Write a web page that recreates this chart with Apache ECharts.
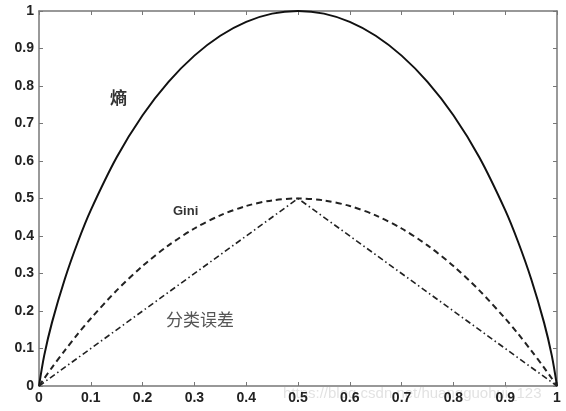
<!DOCTYPE html>
<html><head><meta charset="utf-8">
<script src="https://cdn.jsdelivr.net/npm/echarts@6/dist/echarts.min.js"></script>
<style>html,body{margin:0;padding:0;background:#fff}#c{width:566px;height:411px}</style>
</head><body><div id="c"></div>
<script>
var pValues = [0, 0.01, 0.025, 0.05, 0.075, 0.1, 0.15, 0.2, 0.25, 0.3, 0.35, 0.4, 0.45, 0.5, 0.55, 0.6, 0.65, 0.7, 0.75, 0.8, 0.85, 0.9, 0.925, 0.95, 0.975, 0.99, 1];
var entropyValues = [0, 0.081, 0.169, 0.286, 0.384, 0.469, 0.610, 0.722, 0.811, 0.881, 0.934, 0.971, 0.993, 1, 0.993, 0.971, 0.934, 0.881, 0.811, 0.722, 0.610, 0.469, 0.384, 0.286, 0.169, 0.081, 0];
var giniValues = [0, 0.020, 0.049, 0.095, 0.139, 0.180, 0.255, 0.320, 0.375, 0.420, 0.455, 0.480, 0.495, 0.5, 0.495, 0.480, 0.455, 0.420, 0.375, 0.320, 0.255, 0.180, 0.139, 0.095, 0.049, 0.020, 0];
var errorP = [0, 0.5, 1];
var errorValues = [0, 0.5, 0];
var xTicks = ['0','0.1','0.2','0.3','0.4','0.5','0.6','0.7','0.8','0.9','1'];
var yTicks = ['0','0.1','0.2','0.3','0.4','0.5','0.6','0.7','0.8','0.9','1'];

function zip(a, b) { return a.map(function (v, i) { return [v, b[i]]; }); }

var chart = echarts.init(document.getElementById('c'));
var axisCol = '#777';
var lbl = {color: '#222', fontFamily: 'Liberation Sans', fontSize: 14, fontWeight: 'bold'};
function mkAxis(pos, show, labels) {
  return {
    type: 'value', min: 0, max: 1, interval: 0.1, position: pos,
    axisLine: {show: true, onZero: false, lineStyle: {color: axisCol, width: 1.5}},
    axisTick: {show: true, inside: true, length: 4, lineStyle: {color: axisCol}},
    splitLine: {show: false},
    axisLabel: show ? Object.assign({margin: 5, formatter: function (v) { return labels[Math.round(v * 10)]; }}, lbl) : {show: false}
  };
}
chart.setOption({
  animation: false,
  grid: {left: 39, right: 9, top: 11, bottom: 25},
  xAxis: [mkAxis('bottom', true, xTicks), mkAxis('top', false)],
  yAxis: [mkAxis('left', true, yTicks), mkAxis('right', false)],
  series: [
    {type: 'line', data: zip(pValues, entropyValues), smooth: 0.3, showSymbol: false,
     lineStyle: {color: '#111', width: 2, type: 'solid'}},
    {type: 'line', data: zip(pValues, giniValues), smooth: 0.3, showSymbol: false,
     lineStyle: {color: '#222', width: 2, type: [6, 4]}},
    {type: 'line', data: zip(errorP, errorValues), showSymbol: false,
     lineStyle: {color: '#222', width: 1.6, type: [6, 3, 1.5, 3]}}
  ],
  graphic: [
    {type: 'text', left: 110, top: 89, style: {text: '熵', fontSize: 17, fontFamily: 'Noto Sans CJK SC', fill: '#333', fontWeight: 'bold'}},
    {type: 'text', left: 173, top: 205, style: {text: 'Gini', fontSize: 13, fontFamily: 'Liberation Sans', fill: '#333', fontWeight: 'bold'}},
    {type: 'text', left: 166, top: 311, style: {text: '分类误差', fontSize: 17, fontFamily: 'Noto Sans CJK SC', fill: '#555'}},
    {type: 'text', left: 283, top: 386, style: {text: 'https://blog.csdn.net/huangguohui_123', fontSize: 15, fontFamily: 'Liberation Sans', fill: 'rgba(190,190,190,0.45)'}}
  ]
});
</script></body></html>
